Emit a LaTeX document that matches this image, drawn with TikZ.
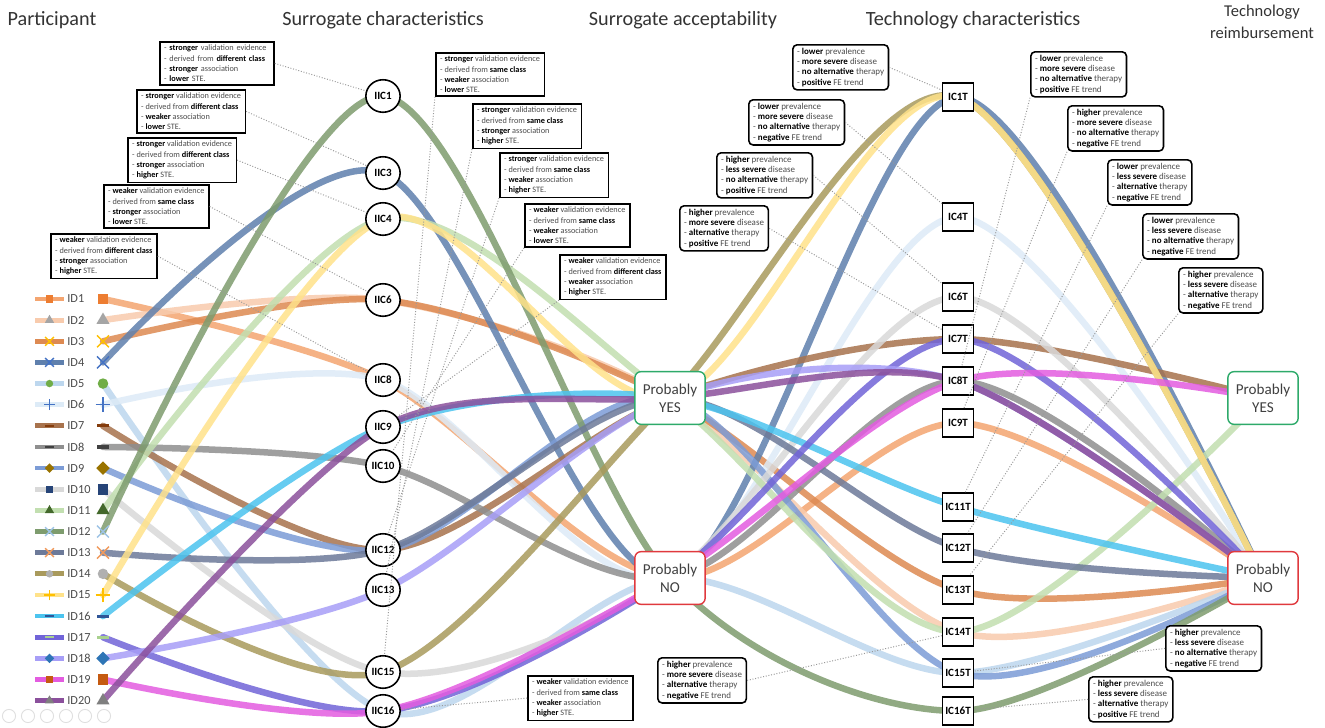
\documentclass[tikz,border=0pt]{standalone}
\usepackage{fontspec}
\setmainfont{Carlito}
\usetikzlibrary{shapes.geometric,shapes.misc}
\pgfdeclarelayer{bg}
\pgfdeclarelayer{lines}
\pgfsetlayers{bg,lines,main}

\definecolor{c1}{HTML}{F4A570}
\definecolor{c2}{HTML}{F8CBAD}
\definecolor{c3}{HTML}{DD8A52}
\definecolor{c4}{HTML}{5F80AD}
\definecolor{c5}{HTML}{BDD7EE}
\definecolor{c6}{HTML}{DDEBF7}
\definecolor{c7}{HTML}{A8734D}
\definecolor{c8}{HTML}{8F8F8F}
\definecolor{c9}{HTML}{7C9CD6}
\definecolor{c10}{HTML}{D9D9D9}
\definecolor{c11}{HTML}{C2DFB0}
\definecolor{c12}{HTML}{7E9C6E}
\definecolor{c13}{HTML}{6D7A99}
\definecolor{c14}{HTML}{A99A5C}
\definecolor{c15}{HTML}{FFE28A}
\definecolor{c16}{HTML}{4CC4EF}
\definecolor{c17}{HTML}{7164D8}
\definecolor{c18}{HTML}{A79EF7}
\definecolor{c19}{HTML}{E35CE0}
\definecolor{c20}{HTML}{8B509C}
\definecolor{m1}{HTML}{ED7D31}
\definecolor{m2}{HTML}{A5A5A5}
\definecolor{m3}{HTML}{FFC000}
\definecolor{m4}{HTML}{4472C4}
\definecolor{m5}{HTML}{70AD47}
\definecolor{m6}{HTML}{4472C4}
\definecolor{m7}{HTML}{843C0C}
\definecolor{m8}{HTML}{404040}
\definecolor{m9}{HTML}{997300}
\definecolor{m10}{HTML}{264478}
\definecolor{m11}{HTML}{43682B}
\definecolor{m12}{HTML}{9DC3E6}
\definecolor{m13}{HTML}{F19A5C}
\definecolor{m14}{HTML}{B0B0B0}
\definecolor{m15}{HTML}{FFC000}
\definecolor{m16}{HTML}{2F5597}
\definecolor{m17}{HTML}{A9D18E}
\definecolor{m18}{HTML}{2E75B6}
\definecolor{m19}{HTML}{C55A11}
\definecolor{m20}{HTML}{7F7F7F}
\definecolor{yesc}{HTML}{2EAA6A}
\definecolor{noc}{HTML}{E0393E}

\newcommand{\bword}[1]{\textbf{\textcolor{black}{#1}}}
\newcommand{\sdtext}[4]{- \bword{#1} validation evidence\\- derived from \bword{#2}\\- \bword{#3} association\\- \bword{#4} STE.}
\newcommand{\tdtext}[4]{- \bword{#1} prevalence\\- \bword{#2} disease\\- \bword{#3} therapy\\- \bword{#4} FE trend}

\tikzset{
  pline/.style={line width=3.7pt, draw opacity=0.85, line cap=round},
  legline/.style={line width=2.7pt},
  ttl/.style={font=\fontsize{11.5}{12.5}\selectfont, text=black!80, align=center, inner sep=0pt},
  ttlsmall/.style={font=\fontsize{9.4}{12.3}\selectfont, text=black!80, align=center, inner sep=0pt},
  legtext/.style={font=\fontsize{7}{8}\selectfont, text=black!70, anchor=west, inner sep=0pt},
  iicn/.style={ellipse, draw=black, line width=0.9pt, fill=white, minimum width=19.5pt, minimum height=18.5pt, inner sep=0pt, font=\fontsize{6.3}{7}\selectfont\bfseries},
  icn/.style={rectangle, draw=black, line width=0.9pt, fill=white, minimum width=17.5pt, minimum height=16pt, inner sep=0pt, font=\fontsize{6.3}{7}\selectfont\bfseries},
  acc/.style={rectangle, rounded corners=3.5pt, line width=0.8pt, fill=white, minimum width=40pt, minimum height=30pt, align=center, font=\fontsize{8.6}{10.3}\selectfont, text=black!75},
  yesb/.style={acc, draw=yesc},
  nob/.style={acc, draw=noc},
  sdesc/.style={rectangle, draw=black, line width=0.9pt, fill=white, align=left, anchor=north west, inner xsep=2.5pt, inner ysep=1.8pt, font=\fontsize{4.7}{5.9}\selectfont, text=black!70},
  tdesc/.style={sdesc, rounded corners=2.5pt, font=\fontsize{5.1}{5.9}\selectfont},
  lead/.style={densely dotted, draw=gray!80, line width=0.55pt},
  navc/.style={circle, draw=gray!25, line width=0.5pt, minimum size=7.5pt, inner sep=0pt},
  mksq/.style 2 args={rectangle, fill=#1, inner sep=0pt, minimum size=#2},
  mktri/.style 2 args={regular polygon, regular polygon sides=3, fill=#1, inner sep=0pt, minimum size=1.45*#2},
  mkx/.style 2 args={cross out, draw=#1, line width=0.8pt, inner sep=0pt, minimum size=#2},
  mkplus/.style 2 args={cross out, rotate=45, draw=#1, line width=0.8pt, inner sep=0pt, minimum size=0.85*#2},
  mkcirc/.style 2 args={circle, fill=#1, inner sep=0pt, minimum size=#2},
  mkdash/.style 2 args={rectangle, fill=#1, inner sep=0pt, minimum width=1.1*#2, minimum height=0.3*#2},
  mkdia/.style 2 args={diamond, fill=#1, inner sep=0pt, minimum size=1.3*#2},
}

\newcommand{\ptpath}[8]{%
  \pgfmathsetmacro\pty{299+(#1-1)*21.14}%
  \coordinate (s#1) at (103,\pty);
  \begin{pgfonlayer}{lines}
    \draw[pline, draw=#2] plot[smooth, tension=0.5] coordinates {(s#1) (#5.center) (#6.center) (#7.center) (#8.center)};
  \end{pgfonlayer}
  \node[mk#3={#4}{6pt}] (sm#1) at (s#1) {};
  \coordinate (la#1) at (35,\pty);
  \coordinate (lb#1) at (64,\pty);
  \draw[legline, draw=#2] (la#1) -- (lb#1);
  \node[mk#3={#4}{4.2pt}] (lm#1) at (49.5,\pty) {};
  \node[legtext] (lt#1) at (67,\pty) {ID#1};
}

\begin{document}
\begin{tikzpicture}[x=0.02cm,y=-0.02cm]
\useasboundingbox (0,0) rectangle (1325,727);
\begin{pgfonlayer}{bg}
  \fill[white] (0,0) rectangle (1325,727);
\end{pgfonlayer}

% titles
\node[ttl] (t1) at (52,20) {Participant};
\node[ttl] (t2) at (383,20) {Surrogate characteristics};
\node[ttl] (t3) at (683,20) {Surrogate acceptability};
\node[ttl] (t4) at (973,20) {Technology characteristics};
\node[ttlsmall] (t5) at (1262,22) {Technology\\reimbursement};

% surrogate characteristic nodes
\node[iicn] (iic1) at (383,96) {IIC1};
\node[iicn] (iic3) at (383,173) {IIC3};
\node[iicn] (iic4) at (383,219) {IIC4};
\node[iicn] (iic6) at (383,300) {IIC6};
\node[iicn] (iic8) at (383,380) {IIC8};
\node[iicn] (iic9) at (383,427) {IIC9};
\node[iicn] (iic10) at (383,466) {IIC10};
\node[iicn] (iic12) at (383,550) {IIC12};
\node[iicn] (iic13) at (383,590) {IIC13};
\node[iicn] (iic15) at (383,672) {IIC15};
\node[iicn] (iic16) at (383,711) {IIC16};

% acceptability
\node[yesb] (pyes) at (670,398) {Probably\\YES};
\node[nob] (pno) at (670,578) {Probably\\NO};

% technology characteristic nodes
\node[icn] (ic1t) at (958,97) {IC1T};
\node[icn] (ic4t) at (958,217) {IC4T};
\node[icn] (ic6t) at (958,297) {IC6T};
\node[icn] (ic7t) at (958,339) {IC7T};
\node[icn] (ic8t) at (958,381) {IC8T};
\node[icn] (ic9t) at (958,423) {IC9T};
\node[icn] (ic11t) at (958,507) {IC11T};
\node[icn] (ic12t) at (958,548) {IC12T};
\node[icn] (ic13t) at (958,590) {IC13T};
\node[icn] (ic14t) at (958,632) {IC14T};
\node[icn] (ic15t) at (958,673) {IC15T};
\node[icn] (ic16t) at (958,711) {IC16T};

% reimbursement
\node[yesb] (ryes) at (1263,398) {Probably\\YES};
\node[nob] (rno) at (1263,578) {Probably\\NO};

% participants
\ptpath{1}{c1}{sq}{m1}{iic8}{pno}{ic9t}{rno}
\ptpath{2}{c2}{tri}{m2}{iic6}{pyes}{ic14t}{rno}
\ptpath{3}{c3}{x}{m3}{iic6}{pyes}{ic13t}{rno}
\ptpath{4}{c4}{x}{m4}{iic3}{pno}{ic1t}{rno}
\ptpath{5}{c5}{circ}{m5}{iic16}{pno}{ic15t}{rno}
\ptpath{6}{c6}{plus}{m6}{iic8}{pno}{ic4t}{rno}
\ptpath{7}{c7}{dash}{m7}{iic12}{pyes}{ic7t}{ryes}
\ptpath{8}{c8}{dash}{m8}{iic10}{pno}{ic8t}{rno}
\ptpath{9}{c9}{dia}{m9}{iic12}{pyes}{ic15t}{rno}
\ptpath{10}{c10}{sq}{m10}{iic15}{pno}{ic6t}{rno}
\ptpath{11}{c11}{tri}{m11}{iic4}{pyes}{ic14t}{ryes}
\ptpath{12}{c12}{x}{m12}{iic1}{pno}{ic16t}{rno}
\ptpath{13}{c13}{x}{m13}{iic12}{pyes}{ic12t}{rno}
\ptpath{14}{c14}{circ}{m14}{iic15}{pyes}{ic1t}{rno}
\ptpath{15}{c15}{plus}{m15}{iic4}{pyes}{ic1t}{rno}
\ptpath{16}{c16}{dash}{m16}{iic9}{pyes}{ic11t}{rno}
\ptpath{17}{c17}{dash}{m17}{iic16}{pno}{ic7t}{rno}
\ptpath{18}{c18}{dia}{m18}{iic13}{pyes}{ic8t}{rno}
\ptpath{19}{c19}{sq}{m19}{iic16}{pno}{ic8t}{ryes}
\ptpath{20}{c20}{tri}{m20}{iic9}{pyes}{ic8t}{rno}

% surrogate description boxes
\node[sdesc, text width=60pt] (b1) at (159,41) {\sdtext{stronger}{different class}{stronger}{lower}};
\node[sdesc] (b2) at (136,89) {\sdtext{stronger}{different class}{weaker}{lower}};
\node[sdesc] (b3) at (127,137) {\sdtext{stronger}{different class}{stronger}{higher}};
\node[sdesc] (b4) at (103,184) {\sdtext{weaker}{same class}{stronger}{lower}};
\node[sdesc] (b5) at (50,233) {\sdtext{weaker}{different class}{stronger}{higher}};
\node[sdesc] (c1b) at (435,52) {\sdtext{stronger}{same class}{weaker}{lower}};
\node[sdesc] (c2b) at (472,103) {\sdtext{stronger}{same class}{stronger}{higher}};
\node[sdesc] (c3b) at (499,152) {\sdtext{stronger}{same class}{weaker}{higher}};
\node[sdesc] (c4b) at (524,203) {\sdtext{weaker}{same class}{weaker}{lower}};
\node[sdesc] (c5b) at (559,254) {\sdtext{weaker}{different class}{weaker}{higher}};
\node[sdesc] (c7b) at (527,675) {\sdtext{weaker}{same class}{weaker}{higher}};

% technology description boxes
\node[tdesc] (d1) at (792,44) {\tdtext{lower}{more severe}{no alternative}{positive}};
\node[tdesc] (d2) at (748,99) {\tdtext{lower}{more severe}{no alternative}{negative}};
\node[tdesc] (d3) at (716,152) {\tdtext{higher}{less severe}{no alternative}{positive}};
\node[tdesc] (d4) at (679,205) {\tdtext{higher}{more severe}{alternative}{positive}};
\node[tdesc] (d5) at (657,657) {\tdtext{higher}{more severe}{alternative}{negative}};
\node[tdesc] (e1) at (1030,51) {\tdtext{lower}{more severe}{no alternative}{positive}};
\node[tdesc] (e2) at (1067,105) {\tdtext{higher}{more severe}{no alternative}{negative}};
\node[tdesc] (e3) at (1107,159) {\tdtext{lower}{less severe}{alternative}{negative}};
\node[tdesc] (e4) at (1142,213) {\tdtext{lower}{less severe}{no alternative}{negative}};
\node[tdesc] (e5) at (1178,267) {\tdtext{higher}{less severe}{alternative}{negative}};
\node[tdesc] (e6) at (1165,625) {\tdtext{higher}{less severe}{no alternative}{negative}};
\node[tdesc] (e7) at (1088,676) {\tdtext{higher}{less severe}{alternative}{positive}};

% leader lines
\draw[lead] (b1.east) -- (iic1);
\draw[lead] (b2.east) -- (iic3);
\draw[lead] (b3.east) -- (iic4);
\draw[lead] (b4.east) -- (iic6);
\draw[lead] (b5.east) -- (iic8);
\draw[lead] (c1b.south west) -- (iic15);
\draw[lead] (c2b.south west) -- (iic13);
\draw[lead] (c3b.south west) -- (iic12);
\draw[lead] (c4b.south west) -- (iic10);
\draw[lead] (c5b.south west) -- (iic9);
\draw[lead] (c7b.west) -- (iic16);
\draw[lead] (d1.east) -- (ic1t);
\draw[lead] (d2.east) -- (ic4t);
\draw[lead] (d3.east) -- (ic6t);
\draw[lead] (d4.east) -- (ic7t);
\draw[lead] (d5.east) -- (ic14t);
\draw[lead] (e1.south west) -- (ic8t);
\draw[lead] (e2.south west) -- (ic9t);
\draw[lead] (e3.south west) -- (ic11t);
\draw[lead] (e4.south west) -- (ic12t);
\draw[lead] (e5.south west) -- (ic13t);
\draw[lead] (e6.west) -- (ic15t);
\draw[lead] (e7.west) -- (ic16t);

% faint slide controls
\node[navc] (n1) at (9,716) {};
\node[navc] (n2) at (28,716) {};
\node[navc] (n3) at (47,716) {};
\node[navc] (n4) at (66,716) {};
\node[navc] (n5) at (85,716) {};
\node[navc] (n6) at (104,716) {};
\end{tikzpicture}
\end{document}
